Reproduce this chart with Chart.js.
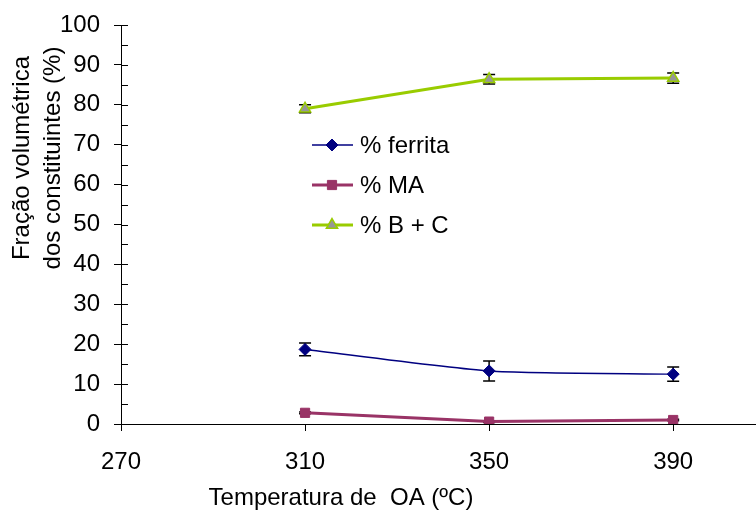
<!DOCTYPE html>
<html>
<head>
<meta charset="utf-8">
<script src="https://cdn.jsdelivr.net/npm/chart.js@4"></script>
<style>
  html, body { margin: 0; padding: 0; background: #fff; }
  #wrap { width: 756px; height: 511px; }
</style>
</head>
<body>
<div id="wrap"><canvas id="chart" width="756" height="511"></canvas></div>
<script>
// ===== Data =====
const TEMPS = [310, 350, 390];
const FERRITA = [18.7, 13.3, 12.5];
const FERRITA_ERR = [1.6, 2.5, 1.8];
const MA = [2.8, 0.6, 1.0];
const MA_ERR = [0.2, 0.2, 0.2];
const BC = [79.0, 86.4, 86.7];
const BC_ERR = [1.0, 1.2, 1.3];
const X_TICKS = [270, 310, 350, 390];
const Y_TICKS = [0, 10, 20, 30, 40, 50, 60, 70, 80, 90, 100];
const LABELS = ['% ferrita', '% MA', '% B + C'];

const FONT = 'Arial, "Liberation Sans", sans-serif';
const FONT_SIZE = 24;
const ERRORS = [FERRITA_ERR, MA_ERR, BC_ERR];

function toPoints(values) {
  return TEMPS.map((t, i) => ({ x: t, y: values[i] }));
}

// error bars, drawn under the markers
const errorBars = {
  id: 'errorBars',
  beforeDatasetsDraw(chart) {
    const { ctx, scales: { x, y } } = chart;
    ctx.save();
    ctx.strokeStyle = '#000';
    ctx.lineWidth = 1.5;
    chart.data.datasets.forEach((ds, di) => {
      const err = ERRORS[di];
      ds.data.forEach((p, i) => {
        const px = x.getPixelForValue(p.x);
        const top = y.getPixelForValue(p.y + err[i]);
        const bot = y.getPixelForValue(p.y - err[i]);
        ctx.beginPath();
        ctx.moveTo(px, top); ctx.lineTo(px, bot);
        ctx.moveTo(px - 6, top); ctx.lineTo(px + 6, top);
        ctx.moveTo(px - 6, bot); ctx.lineTo(px + 6, bot);
        ctx.stroke();
      });
    });
    ctx.restore();
  }
};

// inner tick marks on the value axis + axis titles + legend
const decorations = {
  id: 'decorations',
  afterDraw(chart) {
    const { ctx, scales: { y }, chartArea } = chart;
    ctx.save();
    ctx.strokeStyle = '#000';
    ctx.lineWidth = 1;
    for (let v = y.min; v <= y.max; v += 5) {
      const py = Math.round(y.getPixelForValue(v)) + 0.5;
      ctx.beginPath();
      ctx.moveTo(chartArea.left, py);
      ctx.lineTo(chartArea.left + 7, py);
      ctx.stroke();
    }

    ctx.fillStyle = '#000';
    ctx.font = FONT_SIZE + 'px ' + FONT;
    ctx.textAlign = 'center';
    ctx.textBaseline = 'middle';
    ctx.fillText('Temperatura de  OA (ºC)', 341, 498);

    ctx.save();
    ctx.translate(22, 158);
    ctx.rotate(-Math.PI / 2);
    ctx.fillText('Fração volumétrica', 0, 0);
    ctx.restore();
    ctx.save();
    ctx.translate(53, 158);
    ctx.rotate(-Math.PI / 2);
    ctx.fillText('dos constituintes (%)', 0, 0);
    ctx.restore();

    // legend
    const legendY = [145, 185, 225];
    chart.data.datasets.forEach((ds, i) => {
      const ly = legendY[i];
      ctx.strokeStyle = ds.borderColor;
      ctx.lineWidth = ds.borderWidth;
      ctx.beginPath();
      ctx.moveTo(312, ly);
      ctx.lineTo(353, ly);
      ctx.stroke();
      ctx.fillStyle = ds.pointBackgroundColor;
      ctx.strokeStyle = ds.pointBorderColor;
      ctx.lineWidth = ds.pointBorderWidth;
      Chart.helpers.drawPoint(ctx, {
        pointStyle: ds.pointStyle,
        radius: ds.pointRadius,
        rotation: 0,
        borderWidth: ds.pointBorderWidth
      }, 332, ly);
      ctx.fillStyle = '#000';
      ctx.textAlign = 'left';
      ctx.fillText(LABELS[i], 360, ly + 1);
    });
    ctx.restore();
  }
};

new Chart(document.getElementById('chart').getContext('2d'), {
  type: 'line',
  data: {
    datasets: [
      {
        label: LABELS[0],
        data: toPoints(FERRITA),
        borderColor: '#000080',
        borderWidth: 1.5,
        pointStyle: 'rectRot',
        pointRadius: 6,
        pointBackgroundColor: '#000080',
        pointBorderColor: '#000080',
        pointBorderWidth: 1,
        tension: 0.2,
      },
      {
        label: LABELS[1],
        data: toPoints(MA),
        borderColor: '#993366',
        borderWidth: 3,
        pointStyle: 'rect',
        pointRadius: 6.5,
        pointBackgroundColor: '#993366',
        pointBorderColor: '#993366',
        pointBorderWidth: 1,
        tension: 0,
      },
      {
        label: LABELS[2],
        data: toPoints(BC),
        borderColor: '#99cc00',
        borderWidth: 3,
        pointStyle: 'triangle',
        pointRadius: 6.5,
        pointBackgroundColor: '#969696',
        pointBorderColor: '#99cc00',
        pointBorderWidth: 1.5,
        tension: 0,
      },
    ],
  },
  options: {
    responsive: false,
    animation: false,
    layout: { autoPadding: false, padding: { top: 25, right: 0, left: 0, bottom: 0 } },
    scales: {
      x: {
        type: 'linear',
        min: 270,
        max: 408,
        afterBuildTicks: (scale) => { scale.ticks = X_TICKS.map(v => ({ value: v })); },
        afterFit: (scale) => { scale.height = 87; scale.paddingRight = 0; scale.paddingLeft = 0; },
        border: { color: '#000', width: 1 },
        grid: { drawOnChartArea: false, color: '#000', tickLength: 7 },
        ticks: { color: '#000', padding: 17, font: { size: FONT_SIZE, family: FONT }, maxRotation: 0 },
      },
      y: {
        min: 0,
        max: 100,
        afterBuildTicks: (scale) => { scale.ticks = Y_TICKS.map(v => ({ value: v })); },
        afterFit: (scale) => { scale.width = 121; scale.paddingTop = 0; scale.paddingBottom = 0; },
        border: { color: '#000', width: 1 },
        grid: { drawOnChartArea: false, color: '#000', tickLength: 7 },
        ticks: { color: '#000', padding: 14, font: { size: FONT_SIZE, family: FONT } },
      },
    },
    plugins: {
      legend: { display: false },
      tooltip: { enabled: false },
    },
  },
  plugins: [errorBars, decorations],
});
</script>
</body>
</html>
